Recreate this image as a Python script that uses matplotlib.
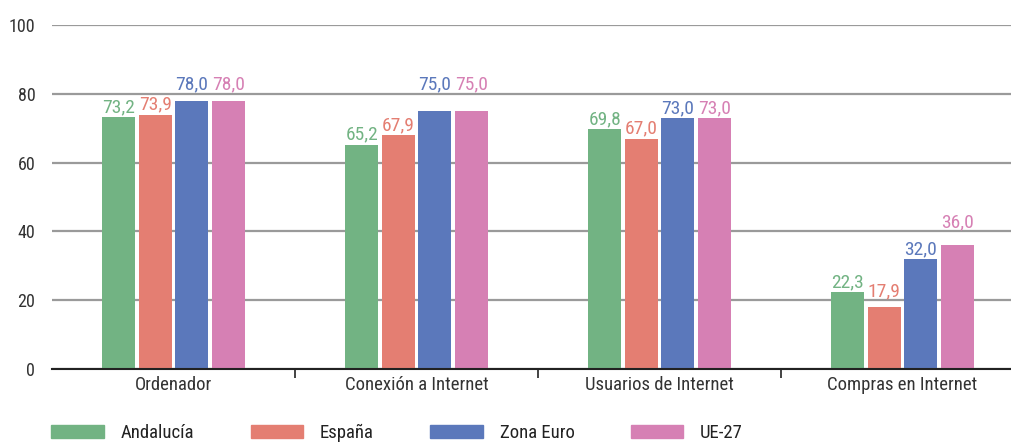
import matplotlib
matplotlib.use("Agg")
import matplotlib.pyplot as plt
import numpy as np

plt.rcParams['font.family'] = ['Roboto Condensed', 'DejaVu Sans']

categories = ["Ordenador", "Conexión a Internet", "Usuarios de Internet", "Compras en Internet"]
series = ["Andalucía", "España", "Zona Euro", "UE-27"]
andalucia = [73.2, 65.2, 69.8, 22.3]
espana = [73.9, 67.9, 67.0, 17.9]
zona_euro = [78.0, 75.0, 73.0, 32.0]
ue27 = [78.0, 75.0, 73.0, 36.0]
values = [andalucia, espana, zona_euro, ue27]
colors = ["#72b383", "#e47e72", "#5b78bb", "#d680b4"]
yticks = [0, 20, 40, 60, 80, 100]

W, H = 1012, 444
fig = plt.figure(figsize=(W/100, H/100), dpi=100)
ax = fig.add_axes([52/W, 75/H, (W-52)/W, 344/H])

ppu = 344 / 100.0  # pixels per data unit
gap = 5 / ppu
digit_h = 14 / ppu
above_grid = 4 / ppu


def label_base(v):
    base = v + gap
    top = base + digit_h
    for g in yticks:
        if base <= g <= top:
            return g + above_grid
    return base


x = np.arange(len(categories))
step = 0.15
width = 0.136
for i, (s, vals, c) in enumerate(zip(series, values, colors)):
    pos = x + (i - 1.5) * step
    ax.bar(pos, vals, width, color=c, label=s, zorder=3)
    for p, v in zip(pos, vals):
        ax.text(p, label_base(v), f"{v:.1f}".replace(".", ","), ha="center", va="baseline",
                color=c, fontsize=14, zorder=4)

ax.set_ylim(0, 100)
ax.set_xlim(-0.5, -0.5 + (W-52)/243)
ax.set_yticks(yticks)
ax.yaxis.grid(True, color="#9a9a9a", linewidth=1.6, zorder=0)
ax.set_axisbelow(True)
for sp in ["top", "right", "left"]:
    ax.spines[sp].set_visible(False)
ax.spines["bottom"].set_color("#222222")
ax.spines["bottom"].set_linewidth(1.5)
ax.spines["bottom"].set_zorder(5)
ax.tick_params(axis="y", length=0, labelsize=13, pad=12, labelcolor="#333333")
ax.set_xticks(x)
ax.set_xticklabels(categories)
ax.tick_params(axis="x", which="major", length=0, labelsize=13.5, pad=5, labelcolor="#333333")
ax.set_xticks([0.5, 1.5, 2.5], minor=True)
ax.tick_params(axis="x", which="minor", length=6.5, width=1.2, color="#222222", direction="out")

handles = [plt.Rectangle((0, 0), 1, 1, color=c) for c in colors]
fig.legend(handles, series, loc="center left", bbox_to_anchor=(44/W, 1 - 433/H), ncol=4,
           frameon=False, fontsize=13.5, handlelength=2.8, handleheight=0.7,
           handletextpad=0.9, columnspacing=3.0, labelcolor="#222222",
           borderaxespad=0, borderpad=0.4)

fig.savefig("out.png", dpi=100)
